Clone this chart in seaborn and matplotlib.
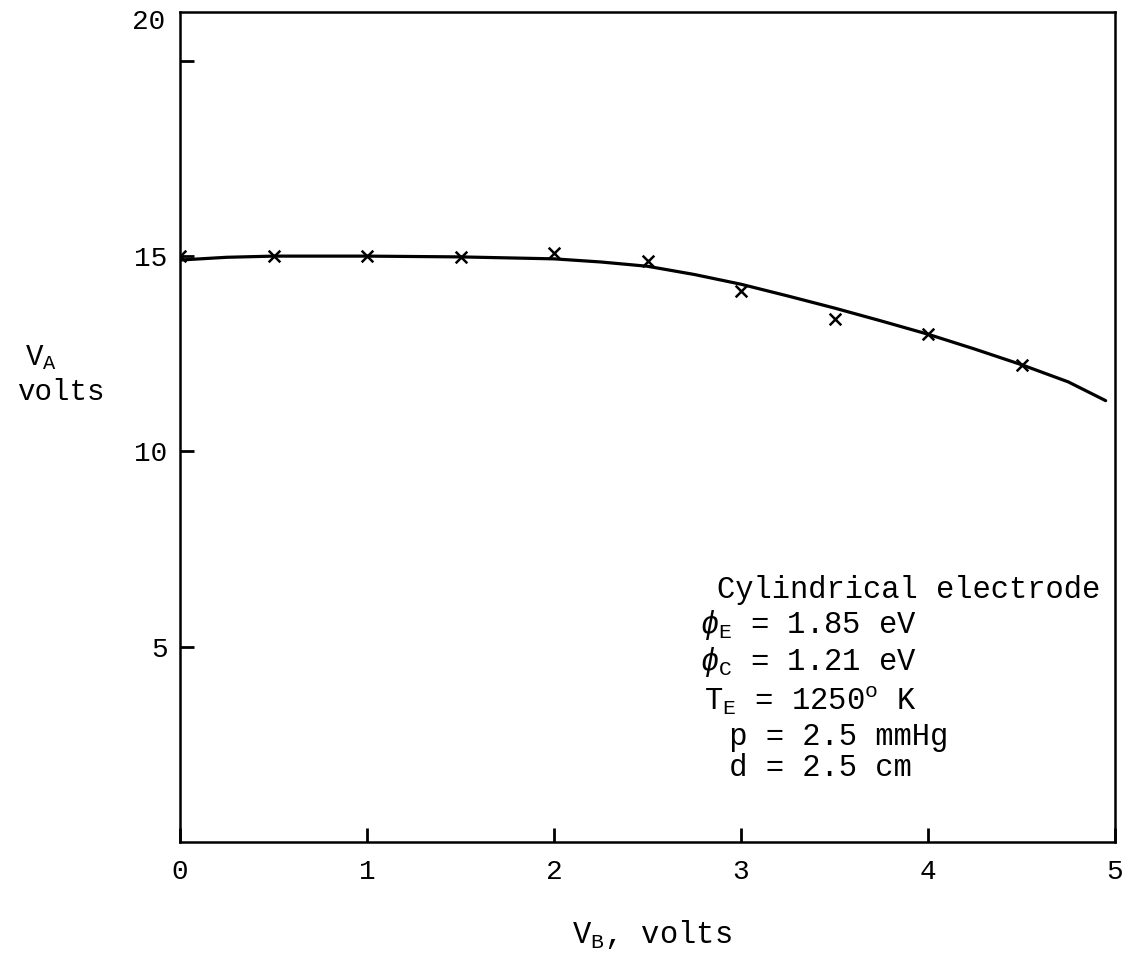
import numpy as np
import pandas as pd
import matplotlib
matplotlib.use("Agg")
import matplotlib.pyplot as plt
import seaborn as sns

# measured points (x marks)
vb_points = [0.0, 0.5, 1.0, 1.5, 2.0, 2.5, 3.0, 3.5, 4.0, 4.5]
va_points = [15.0, 15.0, 15.0, 14.98, 15.07, 14.87, 14.1, 13.4, 13.0, 12.2]

# hand drawn fitted curve
vb_curve = [0.0, 0.25, 0.5, 1.0, 1.5, 2.0, 2.25, 2.5, 2.75, 3.0, 3.25, 3.5, 3.75, 4.0, 4.25, 4.5, 4.75, 4.95]
va_curve = [14.9, 14.97, 15.0, 15.0, 14.98, 14.93, 14.85, 14.74, 14.53, 14.28, 13.98, 13.67, 13.34, 13.0, 12.62, 12.22, 11.78, 11.3]

x_ticks = [0, 1, 2, 3, 4, 5]
y_ticks = [5, 10, 15, 20]
y_ticklabels = ["5", "10", "15", ""]

info_lines = ["Cylindrical electrode",
              r"$\phi_{\rm E}$ = 1.85 eV",
              r"$\phi_{\rm C}$ = 1.21 eV",
              r"T$_{\rm E}$ = 1250$^{\rm o}$ K",
              " p = 2.5 mmHg",
              " d = 2.5 cm"]

sns.set_style("white")
plt.rcParams['font.family'] = ['Liberation Mono', 'DejaVu Sans']
plt.rcParams['mathtext.fontset'] = 'custom'
plt.rcParams['mathtext.rm'] = 'Liberation Mono'
plt.rcParams['mathtext.it'] = 'Liberation Mono:italic'
plt.rcParams['mathtext.bf'] = 'Liberation Mono:bold'
plt.rcParams['text.color'] = 'black'
plt.rcParams['axes.labelcolor'] = 'black'

fig = plt.figure(figsize=(11.37, 9.67), dpi=100)
ax = fig.add_axes([180/1137, 125/967, 935/1137, 830/967])

curve = pd.DataFrame({"vb": vb_curve, "va": va_curve})
pts = pd.DataFrame({"vb": vb_points, "va": va_points})

sns.lineplot(data=curve, x="vb", y="va", ax=ax, color="black", linewidth=2.3, sort=False)
sns.scatterplot(data=pts, x="vb", y="va", ax=ax, marker="x", color="black", s=70, linewidth=1.8, zorder=3)

ax.set_xlim(0, 5)
ax.set_ylim(0, 21.25)
ax.set_xticks(x_ticks)
ax.set_xticklabels([str(t) for t in x_ticks])
ax.set_yticks(y_ticks)
ax.set_yticklabels(y_ticklabels)
ax.tick_params(bottom=True, left=True, direction="in", length=10, width=2,
               labelsize=20, colors="black", pad=9)
ax.tick_params(axis="x", pad=12)
for s in ax.spines.values():
    s.set_linewidth(1.8)
    s.set_color("black")

ax.text(-0.08, 21.0, "20", ha="right", va="center", fontsize=20)

ax.set_xlabel(r"V$_{\rm B}$, volts", fontsize=22)
ax.xaxis.set_label_coords(0.505, -0.092)
ax.set_ylabel("")
fig.text(25/1137, 1 - 358/967, r"V$_{\rm A}$", fontsize=21, ha="left", va="center")
fig.text(17/1137, 1 - 392/967, "volts", fontsize=21, ha="left", va="center")

info_x = [2.87, 2.78, 2.78, 2.8, 2.84, 2.84]
info_y = [6.45, 5.55, 4.6, 3.62, 2.68, 1.9]
for tx, ty, line in zip(info_x, info_y, info_lines):
    ax.text(tx, ty, line, fontsize=22, ha="left", va="center")

fig.savefig("out.png", dpi=100, facecolor="white")
